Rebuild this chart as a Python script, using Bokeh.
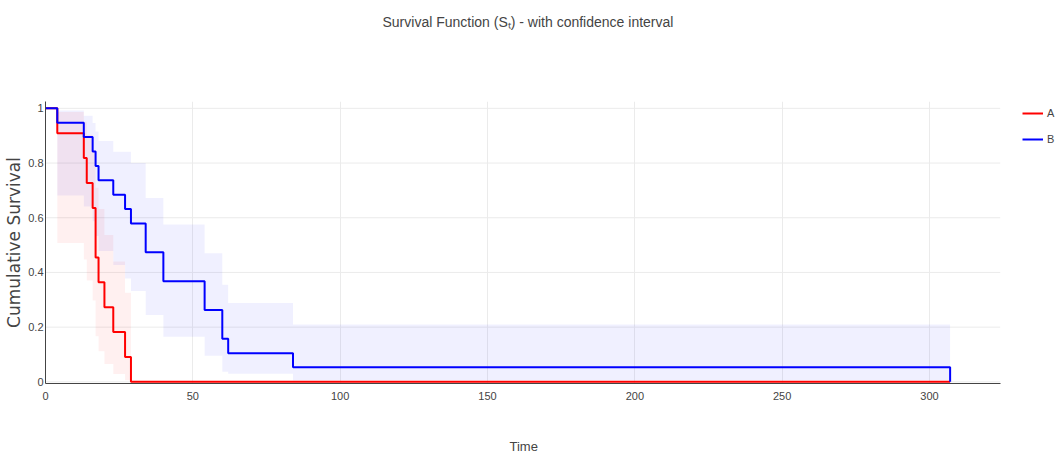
from bokeh.plotting import figure
from bokeh.models import (Legend, LegendItem, Range1d, FixedTicker, Title,
                          NumeralTickFormatter)
from bokeh.embed import file_html
from bokeh.resources import INLINE

# ---- data ----
time_a = [0, 4, 13, 14, 16, 17, 18, 20, 23, 27, 29, 307]
surv_a = [1.0, 0.909, 0.818, 0.727, 0.636, 0.455, 0.364, 0.273, 0.182, 0.091, 0.0, 0.0]
lower_a = [1.0, 0.508, 0.447, 0.371, 0.297, 0.167, 0.112, 0.065, 0.029, 0.006, None, None]
upper_a = [1.0, 0.987, 0.951, 0.903, 0.845, 0.710, 0.632, 0.537, 0.440, 0.326, None, None]

time_b = [0, 4, 13, 16, 17, 18, 23, 27, 29, 34, 40, 54, 60, 62, 84, 307]
surv_b = [1.0, 0.947, 0.895, 0.842, 0.789, 0.737, 0.684, 0.632, 0.579, 0.474,
          0.368, 0.263, 0.158, 0.105, 0.053, 0.0]
lower_b = [1.0, 0.681, 0.641, 0.587, 0.533, 0.478, 0.427, 0.378, 0.332, 0.244,
           0.165, 0.095, 0.037, 0.030, 0.005, None]
upper_b = [1.0, 0.992, 0.973, 0.946, 0.915, 0.881, 0.841, 0.841, 0.800, 0.672,
           0.575, 0.470, 0.355, 0.288, 0.210, None]

x_ticks = [0, 50, 100, 150, 200, 250, 300]
y_ticks = [0, 0.2, 0.4, 0.6, 0.8, 1.0]
x_axis_max = 324

FONT = "Liberation Sans"
TXT = "#444444"
GRID = "#ebebeb"


def band(t, lo, hi):
    xs, y1, y2 = [], [], []
    for i in range(len(t)):
        if lo[i] is None:
            xs.append(t[i]); y1.append(lo[i - 1]); y2.append(hi[i - 1])
            break
        xs.append(t[i]); y1.append(lo[i]); y2.append(hi[i])
    return xs, y1, y2


# frame spans to the right edge so the legend (drawn inside it) is not clipped;
# the axis line and the horizontal grid stop at x_axis_max
p = figure(width=1056, height=454, output_backend="svg", toolbar_location=None,
           x_range=Range1d(0, 343.1), y_range=Range1d(-0.006, 1.025),
           min_border_left=45, min_border_right=0, min_border_top=101,
           min_border_bottom=71)
p.outline_line_color = None
p.background_fill_color = "white"
p.border_fill_color = "white"

# horizontal grid lines (bounded)
p.ygrid.visible = False
p.segment(x0=[0] * len(y_ticks), x1=[x_axis_max] * len(y_ticks),
          y0=y_ticks, y1=y_ticks, line_color=GRID, line_width=1, level="underlay")

# bands
xa, la, ua = band(time_a, lower_a, upper_a)
xb, lb, ub = band(time_b, lower_b, upper_b)
p.varea_step(x=xa, y1=la, y2=ua, step_mode="after", fill_color="#ff0000", fill_alpha=0.06)
p.varea_step(x=xb, y1=lb, y2=ub, step_mode="after", fill_color="#0000ff", fill_alpha=0.06)

# lines
ra = p.step(time_a, surv_a, mode="after", line_color="#ff0000", line_width=2)
rb = p.step(time_b, surv_b, mode="after", line_color="#0000ff", line_width=2)

# title (a blank spacer title nearest the frame pushes the real one up)
spacer = Title(text=" ", text_font=FONT, text_font_size="14px", standoff=42)
p.add_layout(spacer, "above")
t = Title(text="Survival Function (Sₜ) - with confidence interval", align="left",
          offset=337, text_font=FONT, text_font_size="14px", text_font_style="normal",
          text_color=TXT, standoff=23)
p.add_layout(t, "above")

# axes
for ax in (p.xaxis[0], p.yaxis[0]):
    ax.major_tick_line_color = None
    ax.minor_tick_line_color = None
    ax.major_tick_out = 0
    ax.major_tick_in = 0
    ax.minor_tick_out = 0
    ax.minor_tick_in = 0
    ax.axis_line_color = TXT
    ax.axis_line_width = 1
    ax.major_label_text_font = FONT
    ax.major_label_text_font_size = "11px"
    ax.major_label_text_color = TXT
    ax.axis_label_text_color = TXT
    ax.axis_label_text_font_style = "normal"

p.xaxis.bounds = (0, x_axis_max)
p.xaxis.ticker = FixedTicker(ticks=x_ticks)
p.yaxis.ticker = FixedTicker(ticks=y_ticks)
p.yaxis.formatter = NumeralTickFormatter(format="0.[0]")
p.xaxis.major_label_standoff = 8
p.yaxis.major_label_standoff = 2

# x-axis title: centred under the axis line (not the wider frame)
bspacer = Title(text=" ", text_font=FONT, text_font_size="13px", standoff=17)
p.add_layout(bspacer, "below")
xt = Title(text="Time", align="left", offset=464, text_font=FONT,
           text_font_size="13px", text_font_style="normal", text_color=TXT,
           standoff=1)
p.add_layout(xt, "below")

p.yaxis.axis_label = "Cumulative Survival"
p.yaxis.axis_label_text_font = "DejaVu Sans"
p.yaxis.axis_label_text_font_size = "17px"
p.yaxis.axis_label_standoff = 1

p.xgrid.ticker = FixedTicker(ticks=x_ticks)
p.xgrid.grid_line_color = GRID

legend = Legend(items=[LegendItem(label="A", renderers=[ra]),
                       LegendItem(label="B", renderers=[rb])],
                location=(977, 232), padding=0, margin=0, spacing=2,
                glyph_width=21, glyph_height=24, label_height=24,
                label_width=10, label_standoff=4, border_line_color=None,
                background_fill_alpha=0,
                label_text_font=FONT, label_text_font_size="11px",
                label_text_color=TXT)
p.add_layout(legend, "center")

open("out.html", "w").write(file_html(p, INLINE))
